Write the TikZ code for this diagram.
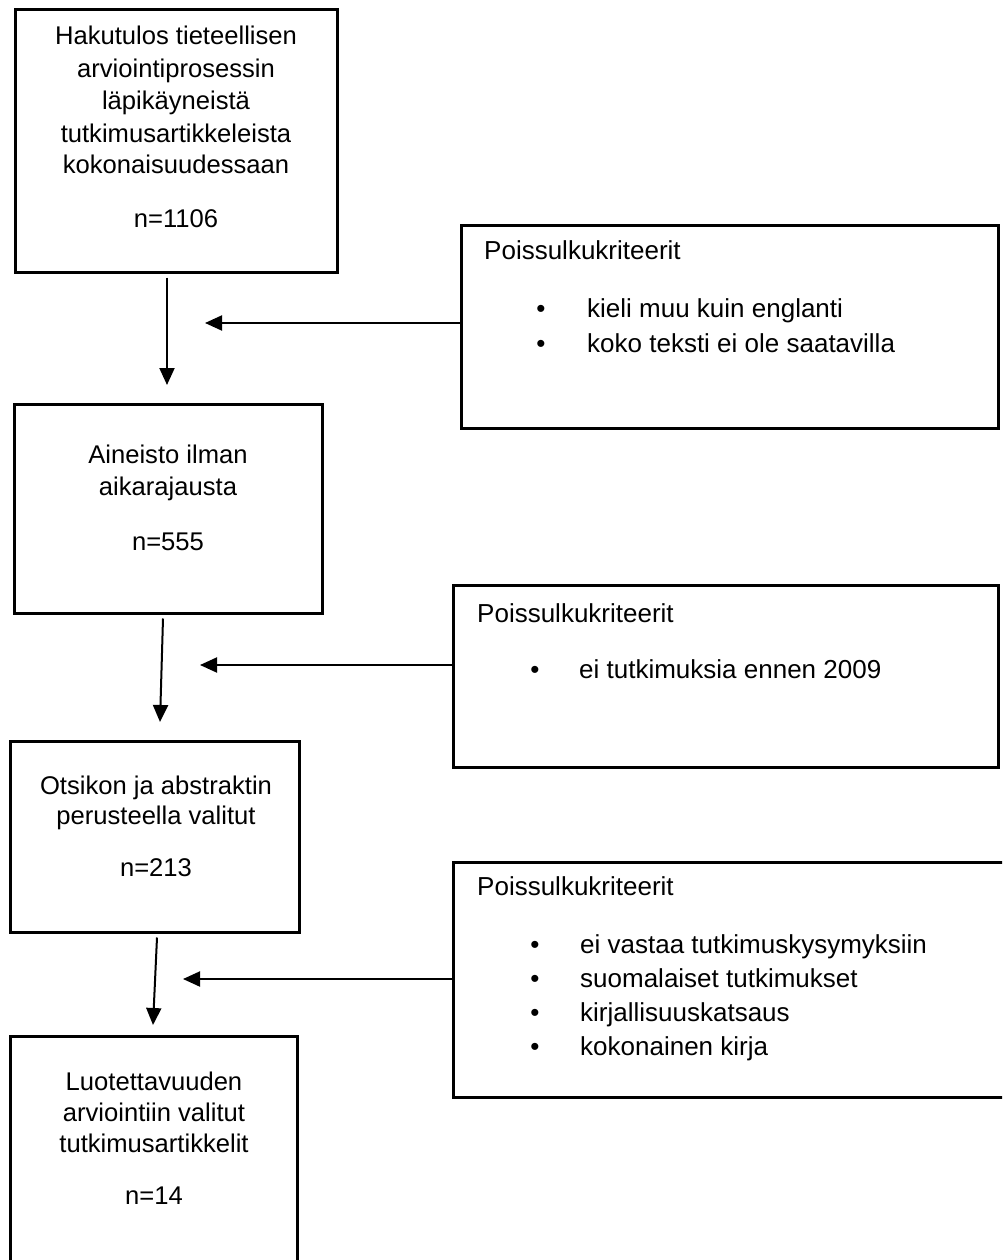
\documentclass[tikz,border=0pt]{standalone}
\usepackage{fontspec}
\setmainfont{Liberation Sans}
\usetikzlibrary{arrows.meta,calc}
\begin{document}
\begin{tikzpicture}[x=1pt,y=-1pt,
  box/.style={draw=black,line width=3pt,inner sep=0pt},
  ltxt/.style={anchor=base,inner sep=0pt,font=\fontsize{25.6}{30}\selectfont},
  rtxt/.style={anchor=base west,inner sep=0pt,font=\fontsize{26}{30}\selectfont},
  bul/.style={anchor=base,inner sep=0pt,font=\fontsize{26}{30}\selectfont},
  arr/.style={draw=black,line width=2pt,-{Triangle[length=17pt,width=15pt]}}]
\useasboundingbox (0,0) rectangle (1002,1260);
\clip (0,0) rectangle (1002,1260);
\fill[white] (0,0) rectangle (1002,1260);
% left column boxes
\node[box,minimum width=322pt,minimum height=262pt] (b1) at (176,141) {};
\node[box,minimum width=308pt,minimum height=209pt] (b2) at (168,508.5) {};
\node[box,minimum width=289pt,minimum height=191pt] (b3) at (154.5,836.5) {};
\node[box,minimum width=287pt,minimum height=264pt] (b4) at (153.5,1168) {};
% right column boxes
\node[box,minimum width=537pt,minimum height=203pt] (r1) at (729.5,326.5) {};
\node[box,minimum width=545pt,minimum height=182pt] (r2) at (725.5,676) {};
\node[box,minimum width=557pt,minimum height=235pt] (r3) at (731.5,979.5) {};
% box 1 text
\node[ltxt] (t1a) at (176,45) {Hakutulos tieteellisen};
\node[ltxt] (t1b) at (176,77.5) {arviointiprosessin};
\node[ltxt] (t1c) at (176,110) {läpikäyneistä};
\node[ltxt] (t1d) at (176,142.5) {tutkimusartikkeleista};
\node[ltxt] (t1e) at (176,174) {kokonaisuudessaan};
\node[ltxt] (t1n) at (176,227) {n=1106};
% box 2 text
\node[ltxt] (t2a) at (168,463) {Aineisto ilman};
\node[ltxt] (t2b) at (168,495) {aikarajausta};
\node[ltxt] (t2n) at (168,550) {n=555};
% box 3 text
\node[ltxt] (t3a) at (156,794) {Otsikon ja abstraktin};
\node[ltxt] (t3b) at (156,824) {perusteella valitut};
\node[ltxt] (t3n) at (156,876) {n=213};
% box 4 text
\node[ltxt] (t4a) at (154,1090) {Luotettavuuden};
\node[ltxt] (t4b) at (154,1121) {arviointiin valitut};
\node[ltxt] (t4c) at (154,1152) {tutkimusartikkelit};
\node[ltxt] (t4n) at (154,1204) {n=14};
% right box 1 text
\node[rtxt] (h1) at (484,259) {Poissulkukriteerit};
\node[bul] (p1a) at (541,317) {•};
\node[rtxt] (q1a) at (587,317) {kieli muu kuin englanti};
\node[bul] (p1b) at (541,352) {•};
\node[rtxt] (q1b) at (587,352) {koko teksti ei ole saatavilla};
% right box 2 text
\node[rtxt] (h2) at (477,622) {Poissulkukriteerit};
\node[bul] (p2a) at (535,678) {•};
\node[rtxt] (q2a) at (579,678) {ei tutkimuksia ennen 2009};
% right box 3 text
\node[rtxt] (h3) at (477,895) {Poissulkukriteerit};
\node[bul] (p3a) at (535,953) {•};
\node[rtxt] (q3a) at (580,953) {ei vastaa tutkimuskysymyksiin};
\node[bul] (p3b) at (535,987) {•};
\node[rtxt] (q3b) at (580,987) {suomalaiset tutkimukset};
\node[bul] (p3c) at (535,1021) {•};
\node[rtxt] (q3c) at (580,1021) {kirjallisuuskatsaus};
\node[bul] (p3d) at (535,1055) {•};
\node[rtxt] (q3d) at (580,1055) {kokonainen kirja};
% arrow end points
\coordinate (a1e) at (167,385);
\coordinate (a2e) at (160,722);
\coordinate (a3e) at (153,1025);
\coordinate (h1e) at (205,323);
\coordinate (h2e) at (200,665);
\coordinate (h3e) at (183,979);
% vertical arrows
\draw[arr] ($(b1.south)+(-9,4)$) -- (a1e);
\draw[arr] ($(b2.south)+(-5,4)$) -- (a2e);
\draw[arr] ($(b3.south)+(2.5,4)$) -- (a3e);
% horizontal arrows
\draw[arr] (r1.west |- h1e) -- (h1e);
\draw[arr] (r2.west |- h2e) -- (h2e);
\draw[arr] (r3.west |- h3e) -- (h3e);
\end{tikzpicture}
\end{document}
